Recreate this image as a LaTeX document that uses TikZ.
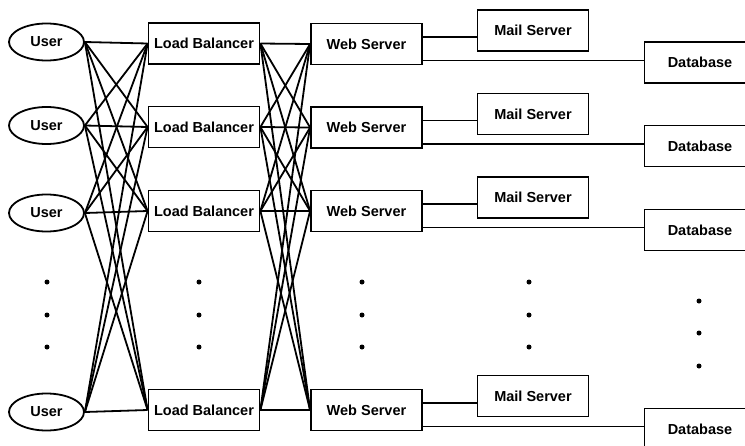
\documentclass[tikz,border=0pt]{standalone}
\usepackage{fontspec}
\setmainfont{Liberation Sans}
\usetikzlibrary{shapes.geometric}
\begin{document}
\begin{tikzpicture}[x=1pt,y=-1pt,
  every node/.style={font=\fontsize{14.5}{17}\selectfont\bfseries, inner sep=0pt},
  box/.style={draw, line width=1.8pt, minimum width=111pt, minimum height=41pt},
  user/.style={draw, ellipse, line width=1.8pt, minimum width=75pt, minimum height=37pt},
  link/.style={line width=1.8pt},
  dotm/.style={circle, fill, minimum size=5pt}]
\useasboundingbox (0,0) rectangle (745,445);
% users
\node[user] (u1) at (46.5,42) {User};
\node[user] (u2) at (46.5,125.5) {User};
\node[user] (u3) at (46.5,213) {User};
\node[user] (u4) at (46.5,412) {User};
% load balancers
\node[box] (l1) at (204,43.5) {Load Balancer};
\node[box] (l2) at (204,127) {Load Balancer};
\node[box] (l3) at (204,211) {Load Balancer};
\node[box] (l4) at (204,410) {Load Balancer};
% web servers
\node[box] (w1) at (366.5,44) {Web Server};
\node[box] (w2) at (366.5,127.5) {Web Server};
\node[box] (w3) at (366.5,211) {Web Server};
\node[box] (w4) at (366.5,410) {Web Server};
% mail servers
\node[box] (m1) at (533,30.5) {Mail Server};
\node[box] (m2) at (533,114) {Mail Server};
\node[box] (m3) at (533,197.5) {Mail Server};
\node[box] (m4) at (533,396) {Mail Server};
% databases
\node[box] (d1) at (700,62.5) {Database};
\node[box] (d2) at (700,146) {Database};
\node[box] (d3) at (700,230) {Database};
\node[box] (d4) at (700,429) {Database};
% user -> LB, LB -> web
\foreach \i in {1,2,3,4}{
  \foreach \j in {1,2,3,4}{
    \draw[link] (u\i.east) -- (l\j.west);
    \draw[link] (l\i.east) -- (w\j.west);
  }
}
% web -> mail / db
\foreach \i in {1,2,3,4}{
  \path ([yshift=7pt]w\i.east) coordinate (wm\i);
  \path ([yshift=-16.5pt]w\i.east) coordinate (wd\i);
  \draw[link] (wm\i) -- (wm\i -| m\i.west);
  \draw[link] (wd\i) -- (wd\i -| d\i.west);
}
% dots
\foreach \x in {47,199,362,529}{
  \foreach \y in {282,315,347}{
    \node[dotm] at (\x,\y) {};
  }
}
\foreach \y in {301,333,366}{
  \node[dotm] at (699,\y) {};
}
\end{tikzpicture}
\end{document}
